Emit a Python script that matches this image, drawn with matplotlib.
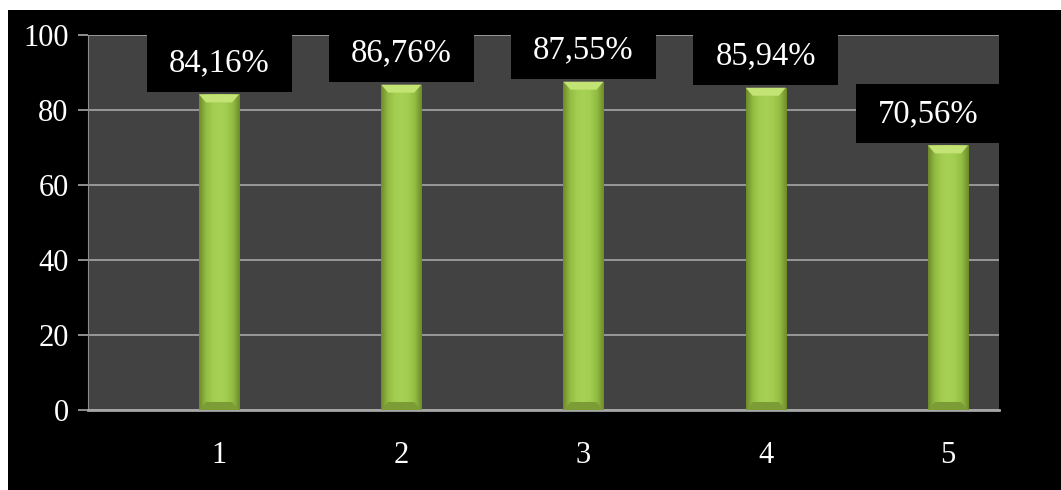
import numpy as np
import matplotlib
matplotlib.use("Agg")
from matplotlib import pyplot as plt
from matplotlib.patches import Rectangle, Polygon
from matplotlib.colors import LinearSegmentedColormap

categories = ["1", "2", "3", "4", "5"]
values = [84.16, 86.76, 87.55, 85.94, 70.56]
y_ticks = [0, 20, 40, 60, 80, 100]

plt.rcParams['font.family'] = ['Liberation Serif', 'DejaVu Serif']

fig = plt.figure(figsize=(10.61, 4.90), dpi=100, facecolor='white')
# black chart area, white strip at top and left
fig.add_artist(Rectangle((8 / 1061, 0), 1, 480 / 490, transform=fig.transFigure,
                         facecolor='black', edgecolor='none', zorder=-10))

ax = fig.add_axes([88 / 1061, 80 / 490, 911 / 1061, 375 / 490])
ax.set_facecolor('#424242')

x = np.arange(len(categories))
bar_w = 0.22
ax.set_xlim(-0.719, 4.28)
ax.set_ylim(0, 100)

# pixel -> data helpers for bevel / boxes
px_x = (4.28 + 0.719) / 911
px_y = 100 / 375

cmap = LinearSegmentedColormap.from_list(
    'bar', ['#6f8c2c', '#92bd42', '#a2cd50', '#a6d154', '#a2cd50', '#92bd42', '#6f8c2c'])
grad = np.linspace(0, 1, 64).reshape(1, -1)

bars = ax.bar(x, values, width=bar_w, color='#9cc84a', zorder=3)
for b, v in zip(bars, values):
    x0 = b.get_x()
    x1 = x0 + b.get_width()
    im = ax.imshow(grad, cmap=cmap, aspect='auto', extent=(x0, x1, 0, v), zorder=3.1)
    im.set_clip_path(b)
    bx = 7 * px_x
    by = 8 * px_y
    ax.add_patch(Polygon([(x0, v), (x1, v), (x1 - bx, v - by), (x0 + bx, v - by)],
                         closed=True, facecolor='#c3e374', edgecolor='none', zorder=3.2))
    ax.add_patch(Polygon([(x0, 0), (x1, 0), (x1 - bx, by), (x0 + bx, by)],
                         closed=True, facecolor='#7c9c35', edgecolor='none', zorder=3.2))

ax.set_yticks(y_ticks)
ax.set_xticks(x)
ax.set_xticklabels(categories)
ax.yaxis.grid(True, color='#a6a6a6', lw=1.2)
ax.set_axisbelow(True)
for s in ['top', 'right']:
    ax.spines[s].set_visible(False)
ax.spines['left'].set_color('#8c8c8c')
ax.spines['bottom'].set_color('#a6a6a6')
ax.spines['bottom'].set_linewidth(2)
ax.tick_params(axis='y', colors='#a6a6a6', length=7, width=1.2, pad=7,
               labelcolor='white', labelsize=22)
ax.tick_params(axis='x', length=0, pad=22, labelcolor='white', labelsize=22)

# data labels in black boxes
box_w = 145 * px_x
box_h = 59 * px_y
right_lim = 4.28 + 2 * px_x
for xi, v in zip(x, values):
    cx = min(xi, right_lim - box_w / 2)
    y0 = v + 0.6
    ax.add_patch(Rectangle((cx - box_w / 2, y0), box_w, box_h, facecolor='black',
                           edgecolor='none', zorder=5, clip_on=False))
    ax.text(cx, y0 + box_h / 2, f"{v:.2f}%".replace('.', ','), color='white',
            fontsize=23.5, ha='center', va='center', zorder=6, clip_on=False)

fig.savefig('out.png', dpi=100, facecolor=fig.get_facecolor())
